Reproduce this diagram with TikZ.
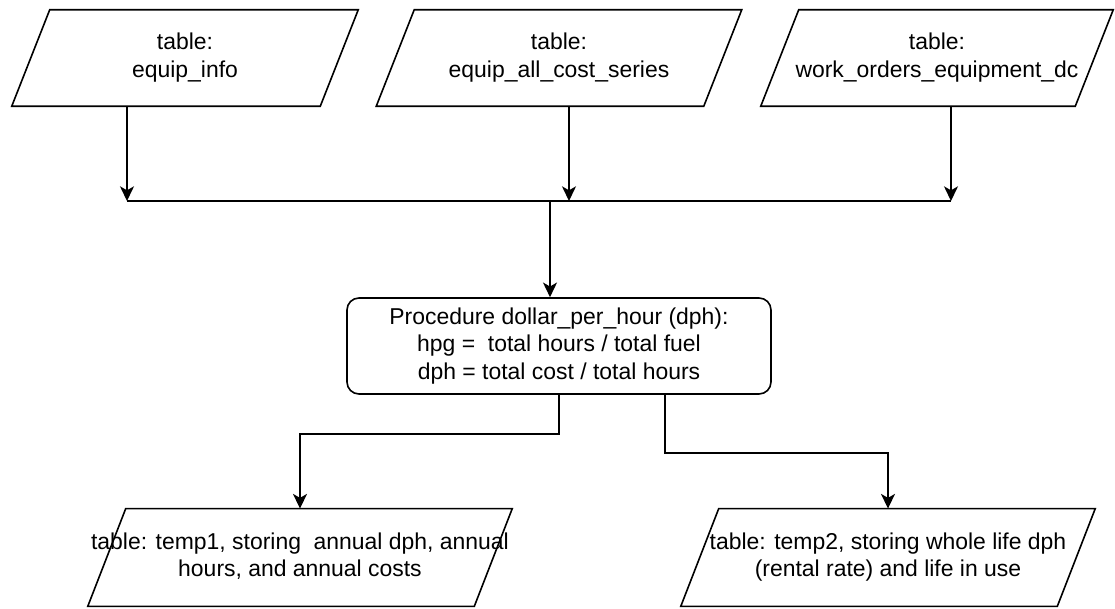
\documentclass[tikz,border=0pt]{standalone}
\usepackage{fontspec}
\setmainfont{Liberation Sans}
\usepackage{tikz}
\usetikzlibrary{arrows.meta}
\usetikzlibrary{calc}
\newcommand{\pxu}{0.75pt}
\newcommand{\tabtext}[1]{\makebox[0pt]{\begin{tabular}{@{}c@{}}#1\end{tabular}}}
\tikzset{
  flowline/.style={line width=1.2pt, black},
  flowarrow/.style={flowline, -{Stealth[length=11pt, width=10.5pt, inset=3pt]}},
  tabbox/.style={rectangle, inner sep=0pt, minimum height=72pt, font=\fontsize{17.2}{20.5}\selectfont},
  procbox/.style={rectangle, draw, flowline, rounded corners=9pt, inner sep=0pt,
    minimum width=424*\pxu, minimum height=72pt, align=center, font=\fontsize{17.2}{20.5}\selectfont},
}

\begin{document}
\begin{tikzpicture}[x=0.75pt, y=-0.75pt]
    \useasboundingbox (0,0) rectangle (1115,609);
    \node[tabbox, minimum width=308*\pxu] (info) at (185,58) {\tabtext{table:\\equip\_info}};
    \node[tabbox, minimum width=327*\pxu] (series) at (559,58) {\tabtext{table:\\equip\_all\_cost\_series}};
    \node[tabbox, minimum width=314*\pxu] (orders) at (937,58) {\tabtext{table:\\work\_orders\_equipment\_dc}};
    \node[procbox] (proc) at (559,346) {Procedure dollar\_per\_hour (dph):\\hpg =~ total hours / total fuel\\dph = total cost / total hours};
    \node[tabbox, minimum width=386*\pxu, minimum height=73pt] (temp1) at (300,557.5) {\tabtext{table: temp1, storing~ annual dph, annual\\hours, and annual costs}};
    \node[tabbox, minimum width=376*\pxu, minimum height=73pt] (temp2) at (888,557.5) {\tabtext{table: temp2, storing whole life dph\\(rental rate) and life in use}};
    \foreach \n in {info,series,orders,temp1,temp2}
        \draw[flowline, line join=miter] ([xshift=14.25pt]\n.north west) -- ([xshift=14.25pt]\n.north east) -- ([xshift=-14.25pt]\n.south east) -- ([xshift=-14.25pt]\n.south west) -- cycle;
    \coordinate (jl) at (127,201);
    \coordinate (js) at (569,201);
    \coordinate (jr) at (951,201);
    \coordinate (jt) at (550,201);
    \draw[flowline] (jl) -- (jr);
    \draw[flowarrow] (info.south -| jl) -- (jl);
    \draw[flowarrow] (series.south -| js) -- (js);
    \draw[flowarrow] (orders.south -| jr) -- (jr);
    \draw[flowarrow] (jt) -- (jt |- proc.north);
    \draw[flowarrow] (proc.south) -- ++(0,39) -| (temp1.north);
    \draw[flowarrow] ([xshift=79.5pt]proc.south) -- ++(0,58) -| (temp2.north);
\end{tikzpicture}
\end{document}
